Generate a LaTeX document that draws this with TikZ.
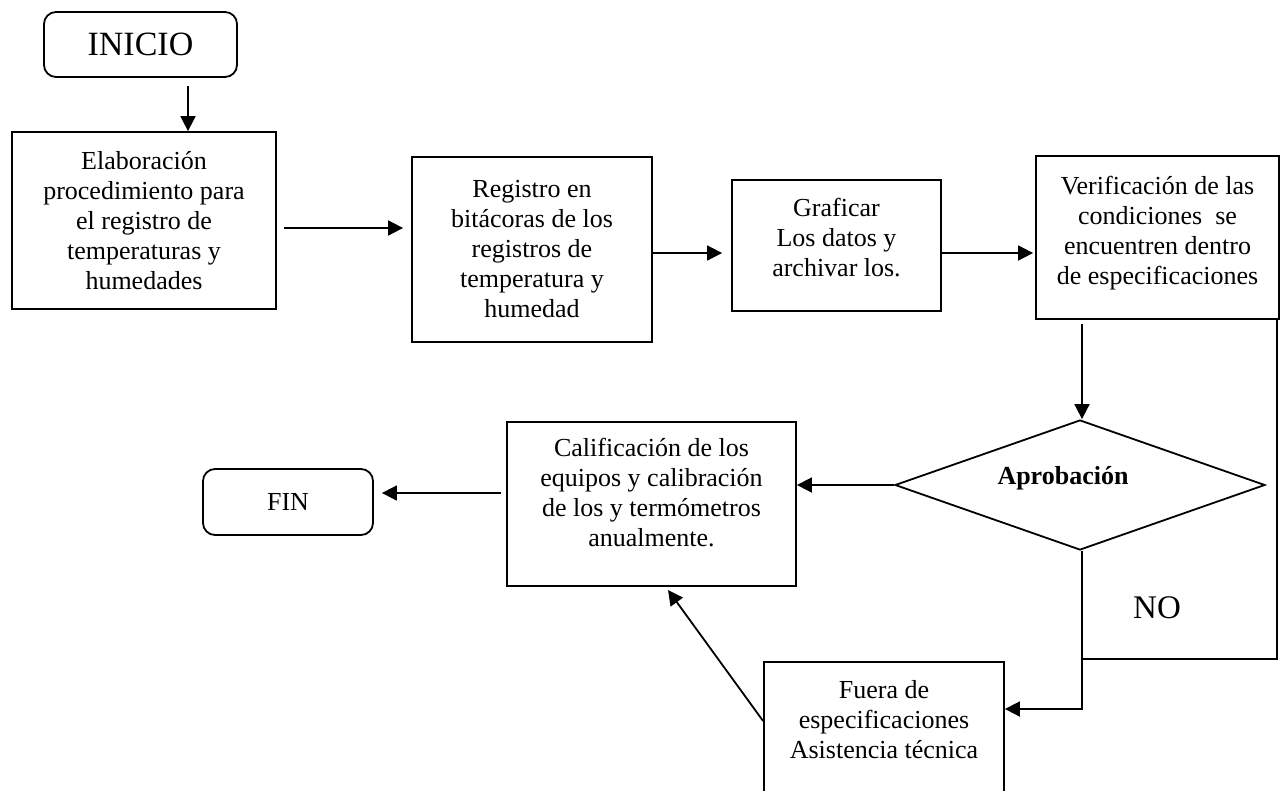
\documentclass[tikz,border=0pt]{standalone}
\usepackage{fontspec}
\setmainfont{Liberation Serif}
\usetikzlibrary{arrows.meta,shapes.geometric,calc}
\begin{document}
\begin{tikzpicture}[x=1pt,y=-1pt,
  box/.style={draw,line width=1.8pt,align=center,inner sep=0pt,font=\fontsize{26}{30}\selectfont},
  txt/.style={align=center,inner sep=0pt,font=\fontsize{26}{30}\selectfont},
  term/.style={box,rounded corners=12pt},
  arr/.style={line width=1.8pt,-{Triangle[length=15pt,width=15pt]}},
  ln/.style={line width=1.8pt}]
\useasboundingbox (0,0) rectangle (1280,790);
% nodes
\node[term,minimum width=193pt,minimum height=65pt,font=\fontsize{34}{40}\selectfont] (ini) at (140.5,44.5) {INICIO};
\node[box,minimum width=264pt,minimum height=177pt] (b1) at (144,220.5) {Elaboración\\procedimiento para\\el registro de\\temperaturas y\\humedades};
\node[box,minimum width=240pt,minimum height=185pt] (b2) at (532,249.5) {Registro en\\bitácoras de los\\registros de\\temperatura y\\humedad};
\node[box,minimum width=209pt,minimum height=131pt] (b3) at (836.5,245.5) {};
\node[txt] (b3t) at (836.5,238) {Graficar\\Los datos y\\archivar los.};
\node[box,minimum width=243pt,minimum height=163pt] (b4) at (1157.5,237.5) {};
\node[txt] (b4t) at (1157.5,233) {Verificación de las\\condiciones\ \ se\\encuentren dentro\\de especificaciones};
\node[box,shape=diamond,minimum width=370pt,minimum height=130pt] (d) at (1080,485) {};
\node[txt,font=\fontsize{26}{30}\selectfont\bfseries] (dt) at (1063,478) {Aprobación};
\node[box,minimum width=289pt,minimum height=164pt] (b5) at (651.5,504) {};
\node[txt] (b5t) at (651.5,493) {Calificación de los\\equipos y calibración\\de los y termómetros\\anualmente.};
\node[term,minimum width=170pt,minimum height=66pt] (fin) at (288,502) {FIN};
\node[box,minimum width=240pt,minimum height=132pt] (b6) at (884,728) {};
\node[txt] (b6t) at (884,720) {Fuera de\\especificaciones\\Asistencia técnica};
\node[font=\fontsize{33}{38}\selectfont,inner sep=0pt] (no) at (1157,608) {NO};
% helper coordinates
\coordinate (xH) at (188,0);
\coordinate (yA) at (0,228);
\coordinate (yB) at (0,253);
\coordinate (xC) at (1082,0);
\coordinate (yD) at (0,493);
\coordinate (yE) at (0,709);
\coordinate (yF) at (0,659);
\coordinate (xG) at (1277,0);
\coordinate (dg) at (668,590);
% connectors
\draw[arr,shorten <=8pt] (ini.south-|xH) -- (b1.north-|xH);
\draw[arr,shorten <=7pt,shorten >=8pt] (b1.east|-yA) -- (b2.west|-yA);
\draw[arr,shorten >=9pt] (b2.east|-yB) -- (b3.west|-yB);
\draw[arr,shorten >=2pt] (b3.east|-yB) -- (b4.west|-yB);
\draw[arr,shorten <=4pt] (b4.south-|xC) -- (d.north-|xC);
\draw[arr] (d.west) -- (b5.east|-d.west);
\draw[arr,shorten <=5pt,shorten >=8pt] (b5.west|-yD) -- (fin.east|-yD);
\draw[arr] (d.south-|xC) |- (b6.east|-yE);
\draw[ln] (b4.south-|xG) -- (xG|-yF) -- (xC|-yF);
\draw[arr] ([yshift=7pt]b6.west) -- (dg);
\end{tikzpicture}
\end{document}
